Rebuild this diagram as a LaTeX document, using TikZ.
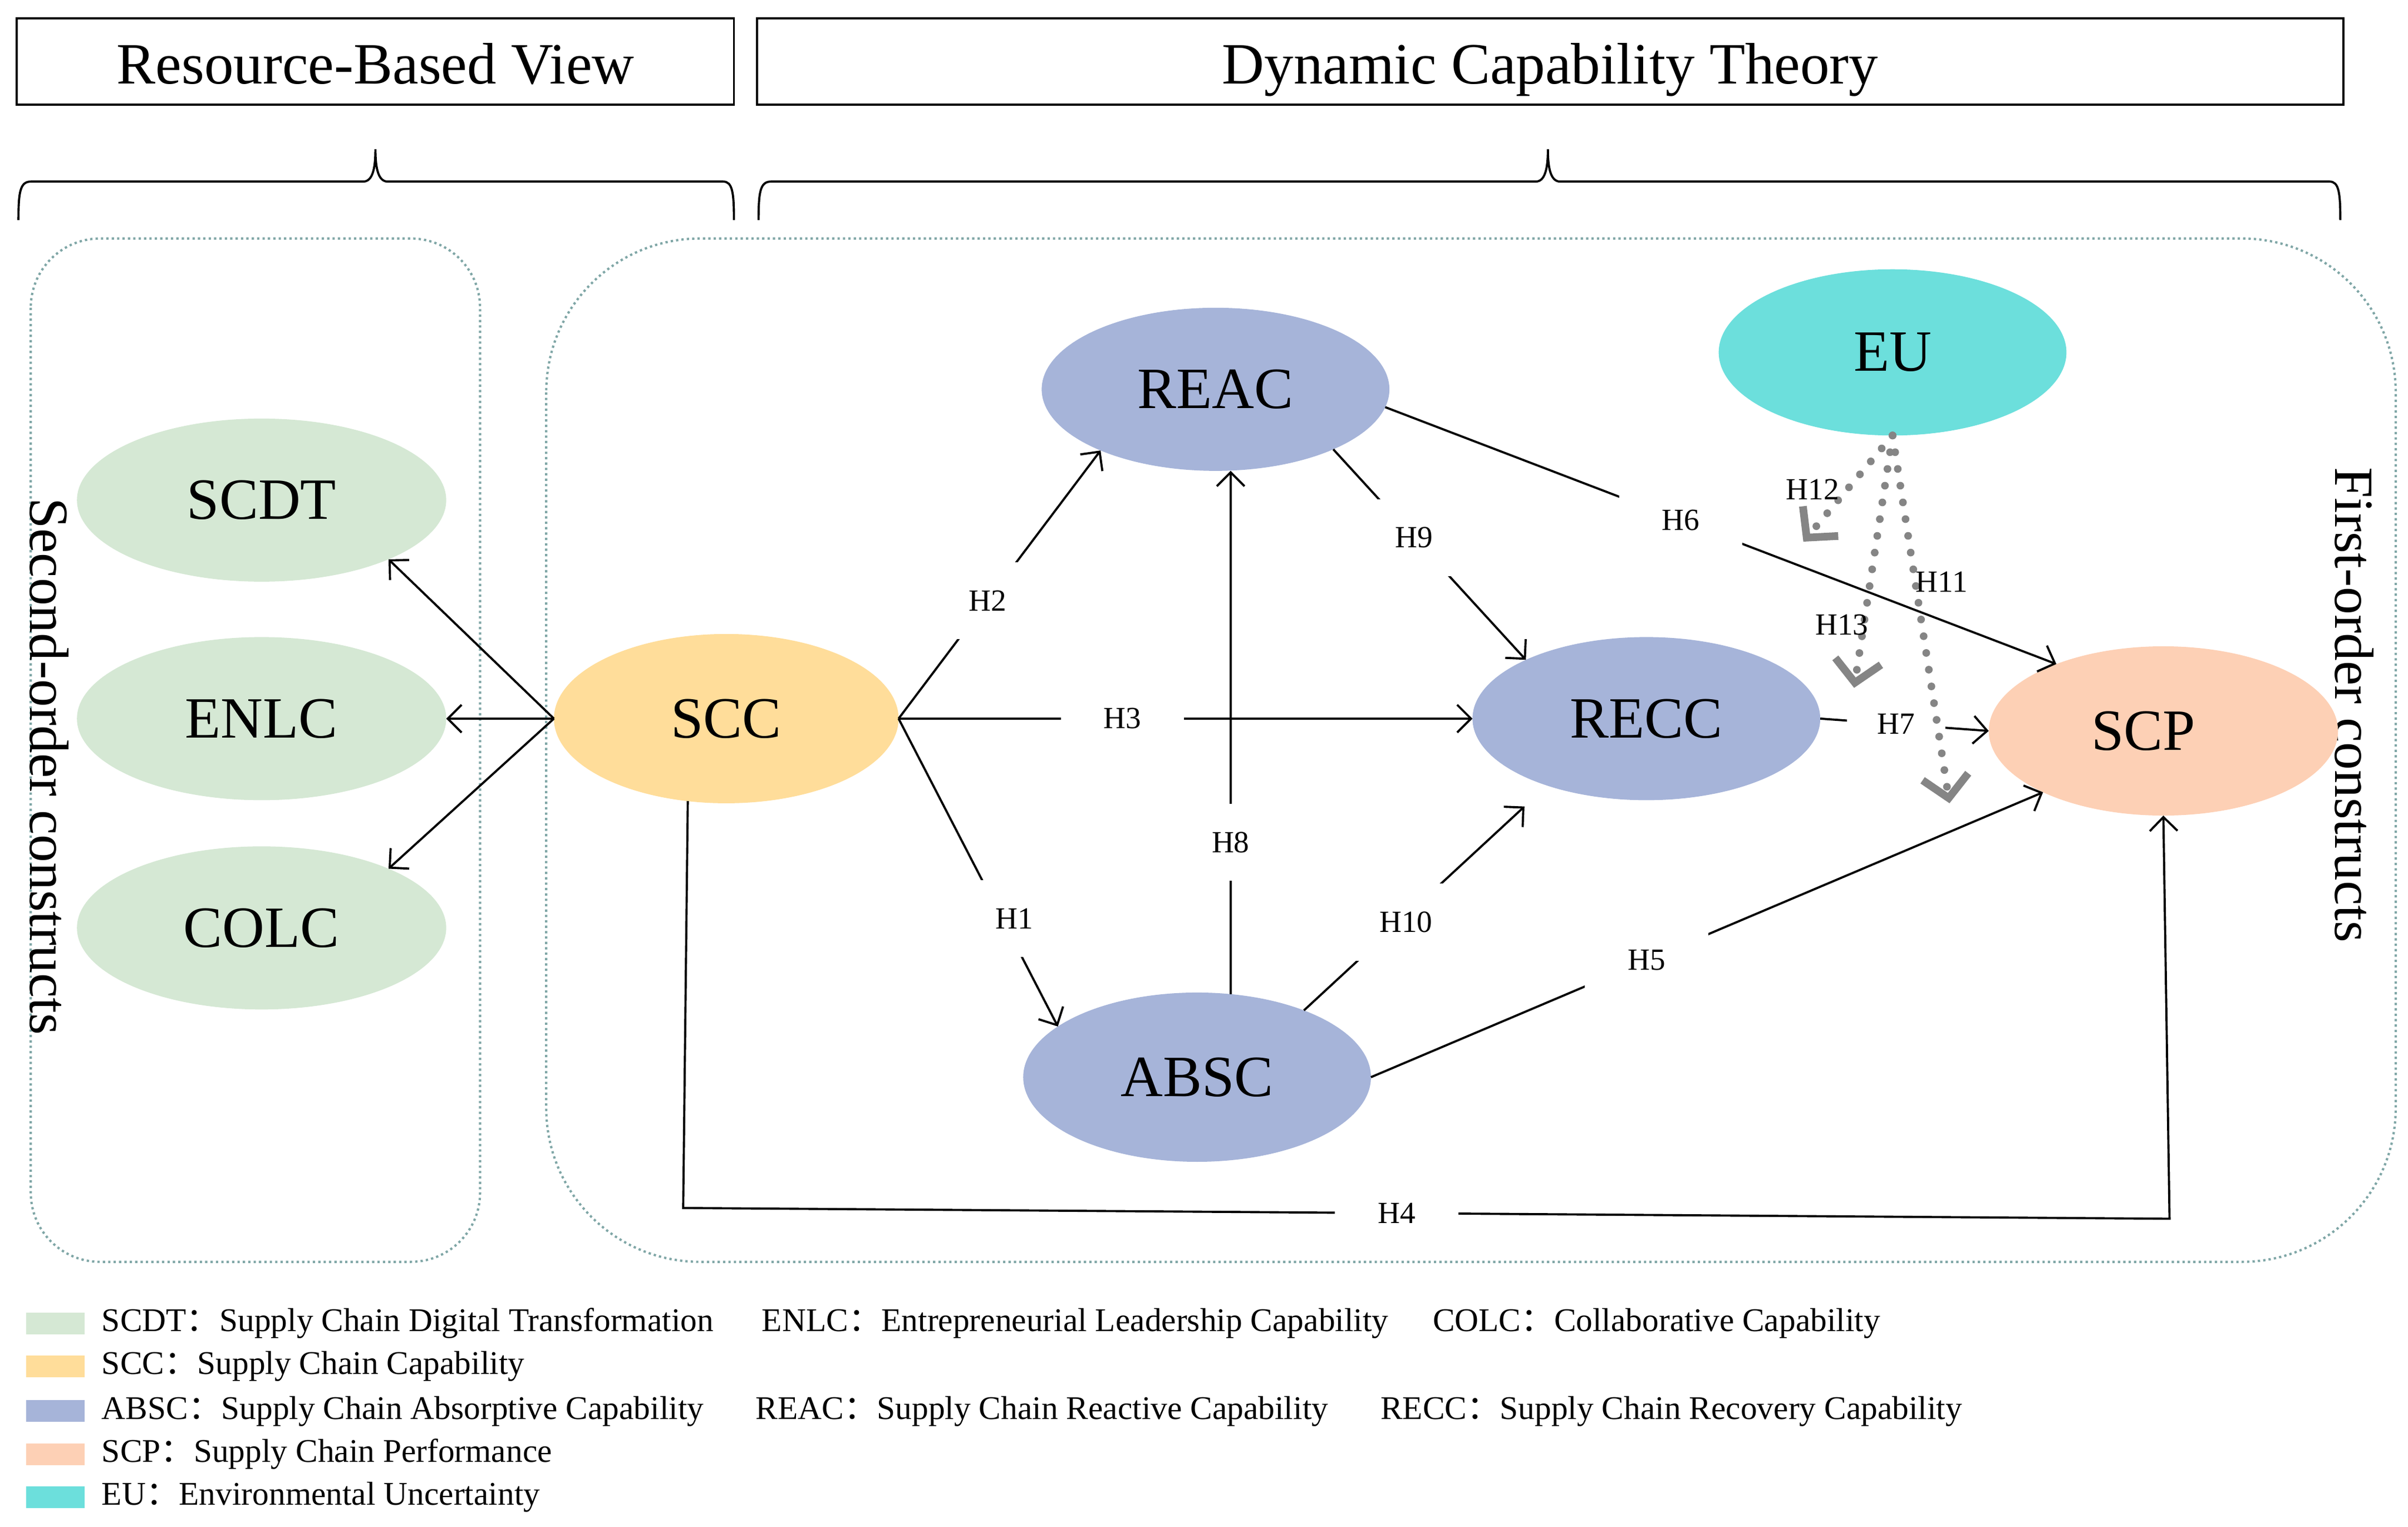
\documentclass[tikz,border=0pt]{standalone}
\usepackage{fontspec}
\setmainfont{Liberation Serif}
\newfontfamily\cjk{Noto Sans CJK SC}
\usetikzlibrary{shapes.geometric,arrows.meta}
\definecolor{grn}{HTML}{D5E8D4}
\definecolor{ylw}{HTML}{FFDD9A}
\definecolor{blu}{HTML}{A6B4D9}
\definecolor{sal}{HTML}{FDD0B5}
\definecolor{cyn}{HTML}{6CDFDC}
\definecolor{frm}{HTML}{7FA6A6}
\definecolor{dgr}{HTML}{858585}
\newcommand{\cln}{{\cjk ：}}
\tikzset{
  cons/.style={ellipse, inner sep=0pt, outer sep=0pt, minimum width=226pt, minimum height=106pt, font=\fontsize{38}{40}\selectfont},
  hdr/.style={draw, line width=1.4pt, inner sep=0pt, minimum height=56pt, text height=31pt, text depth=2pt, font=\fontsize{38}{40}\selectfont},
  arr/.style={line width=1.4pt, -{Straight Barb[length=9pt,width=18pt,line width=1.4pt]}},
  hyp/.style={fill=white, inner sep=0pt, minimum width=80pt, minimum height=50pt, font=\fontsize{20}{22}\selectfont},
  hypd/.style={inner sep=1pt, font=\fontsize{20}{22}\selectfont},
  dots/.style={dgr, line width=5pt, line cap=round, dash pattern=on 0pt off 11pt, -{Straight Barb[length=14pt,width=30pt,line width=5pt]}},
  frame/.style={frm, line width=1.5pt, dash pattern=on 1.5pt off 2pt},
  brc/.style={line width=1.4pt},
  key/.style={inner sep=0pt, minimum width=38pt, minimum height=14pt},
  leg/.style={anchor=west, inner sep=0pt, font=\fontsize{21.5}{23}\selectfont}
}
\begin{document}
\begin{tikzpicture}[x=1pt,y=-1pt]
\useasboundingbox (0,0) rectangle (1565,992);
% theory headers
\node[hdr, minimum width=466pt] (rbv) at (244,40) {Resource-Based View};
\node[hdr, minimum width=1031pt] (dct) at (1007.5,40) {Dynamic Capability Theory};
% braces
\draw[brc] (12,143) .. controls (12,125) and (13,118) .. (20,118) -- (236,118)
  .. controls (242,118) and (244,110) .. (244,97) .. controls (244,110) and (246,118) .. (252,118)
  -- (470,118) .. controls (476,118) and (477,125) .. (477,143);
\draw[brc] (493,143) .. controls (493,125) and (494,118) .. (501,118) -- (998,118)
  .. controls (1004,118) and (1006,110) .. (1006,97) .. controls (1006,110) and (1008,118) .. (1014,118)
  -- (1514,118) .. controls (1520,118) and (1521,125) .. (1521,143);
% frames
\draw[frame, rounded corners=45pt] (20,155) rectangle (312,820);
\draw[frame, rounded corners=100pt] (355,155) rectangle (1557,820);
\node[rotate=-90, inner sep=0pt, font=\fontsize{36}{38}\selectfont] (sec) at (32,498) {Second-order constructs};
\node[rotate=-90, inner sep=0pt, font=\fontsize{36}{38}\selectfont] (fst) at (1530,458) {First-order constructs};
% constructs
\node[cons, fill=grn, minimum width=240pt] (scdt) at (170,325) {SCDT};
\node[cons, fill=grn, minimum width=240pt] (enlc) at (170,467) {ENLC};
\node[cons, fill=grn, minimum width=240pt] (colc) at (170,603) {COLC};
\node[cons, fill=ylw, minimum width=224pt, minimum height=110pt] (scc) at (472,467) {SCC};
\node[cons, fill=blu] (reac) at (790,253) {REAC};
\node[cons, fill=blu] (recc) at (1070,467) {RECC};
\node[cons, fill=blu, minimum height=110pt] (absc) at (778,700) {ABSC};
\node[cons, fill=cyn, minimum height=108pt] (eu) at (1230,229) {EU};
\node[cons, fill=sal, minimum width=227pt, minimum height=110pt] (scp) at (1406,475) {SCP\kern26pt\relax};
% second-order links
\draw[arr] (scc.west) -- (scdt.-25);
\draw[arr] (scc.west) -- (enlc.east);
\draw[arr] (scc.west) -- (colc.25);
% hypotheses
\draw[arr] (scc.east) -- node[hyp, pos=0.44]{H2} (reac.208);
\draw[arr] (scc.east) -- node[hyp, pos=0.39]{H3} (recc.west);
\draw[arr] (scc.east) -- node[hyp, pos=0.65, xshift=8pt]{H1} (absc.160);
\draw[arr] (reac.-6) -- node[hyp, pos=0.44]{H6} (scp.148);
\draw[arr] (reac.-27) -- node[hyp, pos=0.42]{H9} (recc.154);
\draw[arr] (absc.68) -- node[hyp, pos=0.29]{H8} (absc.68 |- reac.south);
\draw[arr, shorten >=20pt] (absc.32) -- node[hyp, pos=0.42, yshift=-4pt]{H10} (recc.214);
\draw[arr] (absc.east) -- node[hyp, pos=0.41]{H5} (scp.207);
\draw[arr] (recc.east) -- node[hyp, minimum width=64pt, pos=0.45]{H7} (scp.west);
\coordinate (h4a) at (444,785);
\coordinate (h4b) at (1410,792);
\draw[arr] (scc.245) -- (h4a) -- node[hyp, pos=0.48]{H4} (h4b) -- (scp.south);
% moderation
\coordinate (e12) at (1172,352);
\coordinate (e13) at (1205,447);
\coordinate (e11) at (1267,522);
\draw[dots] (eu.south) -- (e12);
\draw[dots] (eu.south) -- (e13);
\draw[dots] (eu.south) -- (e11);
\node[hypd] (h12) at (1178,318) {H12};
\node[hypd] (h13) at (1197,406) {H13};
\node[hypd] (h11) at (1262,378) {H11};
% legend
\node[key, fill=grn] (kgrn) at (36,860) {};
\node[key, fill=ylw] (kylw) at (36,888) {};
\node[key, fill=blu] (kblu) at (36,917) {};
\node[key, fill=sal] (ksal) at (36,945) {};
\node[key, fill=cyn] (kcyn) at (36,973) {};
\node[leg] (lscdt) at (66,860) {SCDT\cln Supply Chain Digital Transformation};
\node[leg] (lenlc) at (495,860) {ENLC\cln Entrepreneurial Leadership Capability};
\node[leg] (lcolc) at (931,860) {COLC\cln Collaborative Capability};
\node[leg] (lscc) at (66,888) {SCC\cln Supply Chain Capability};
\node[leg] (labsc) at (66,917) {ABSC\cln Supply Chain Absorptive Capability};
\node[leg] (lreac) at (491,917) {REAC\cln Supply Chain Reactive Capability};
\node[leg] (lrecc) at (897,917) {RECC\cln Supply Chain Recovery Capability};
\node[leg] (lscp) at (66,945) {SCP\cln Supply Chain Performance};
\node[leg] (leu) at (66,973) {EU\cln Environmental Uncertainty};
\end{tikzpicture}
\end{document}
